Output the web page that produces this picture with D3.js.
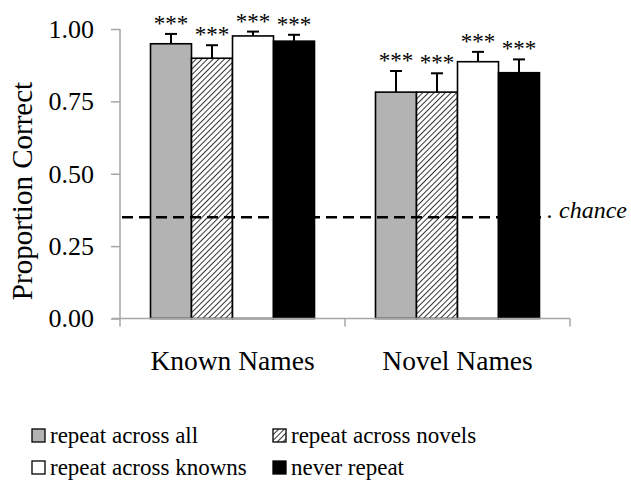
<!DOCTYPE html>
<html>
<head>
<meta charset="utf-8">
<script src="https://cdn.jsdelivr.net/npm/d3@7"></script>
<style>
  html, body { margin: 0; padding: 0; background: #fff; }
  svg { display: block; }
</style>
</head>
<body>
<svg id="chart" width="631" height="487"></svg>
<script>
// ---- data ----
const categories = ["Known Names", "Novel Names"];
const seriesNames = ["repeat across all", "repeat across novels", "repeat across knowns", "never repeat"];
const knownValues = [0.949, 0.899, 0.976, 0.958];
const knownErrors = [0.034, 0.045, 0.015, 0.022];
const novelValues = [0.782, 0.782, 0.887, 0.849];
const novelErrors = [0.073, 0.065, 0.034, 0.046];
const significance = ["***", "***", "***", "***"];
const chanceLevel = 0.35;
const chanceLabel = ". chance";
const yTicks = [0, 0.25, 0.5, 0.75, 1.0];
const yLabel = "Proportion Correct";

// ---- build ----
const FONT = "'Liberation Serif', 'Times New Roman', Times, serif";
const valuesByCat = [knownValues, novelValues];
const errorsByCat = [knownErrors, novelErrors];
const rows = [];
categories.forEach((c, ci) => {
  seriesNames.forEach((s, si) => {
    rows.push({cat: c, series: s, si, value: valuesByCat[ci][si], err: errorsByCat[ci][si], sig: significance[si]});
  });
});

const svg = d3.select("#chart").style("font-family", FONT);
const defs = svg.append("defs");
const pat = defs.append("pattern")
  .attr("id", "hatch").attr("patternUnits", "userSpaceOnUse")
  .attr("width", 4).attr("height", 4)
  .attr("patternTransform", "rotate(45)");
pat.append("rect").attr("width", 4).attr("height", 4).attr("fill", "#fff");
pat.append("line").attr("x1", 0).attr("y1", 0).attr("x2", 0).attr("y2", 4)
  .attr("stroke", "#000").attr("stroke-width", 1.6);

const fills = ["#b3b3b3", "url(#hatch)", "#ffffff", "#000000"];

const x = d3.scaleBand().domain(categories).range([120, 570]).paddingInner(0).paddingOuter(0);
const xs = d3.scaleBand().domain(seriesNames).range([30.5, x.bandwidth() - 30.5]).padding(0);
const y = d3.scaleLinear().domain([0, 1]).range([318.5, 29]);

const axisColor = "#a6a6a6";

function serif(sel) { return sel.style("font-family", FONT).attr("fill", "#000"); }

// y axis
const yAxis = d3.axisLeft(y).tickValues(yTicks).tickFormat(d3.format(".2f")).tickSize(9).tickPadding(17);
const gy = svg.append("g").attr("transform", "translate(120,0)").call(yAxis);
gy.attr("font-family", null).attr("font-size", null);
gy.select(".domain").attr("stroke", axisColor).attr("stroke-width", 1.5).attr("d", `M0,${y(1)}V${y(0)}`);
gy.selectAll(".tick line").attr("stroke", axisColor).attr("stroke-width", 1.5);
serif(gy.selectAll(".tick text")).style("font-size", "26px");

// bars
const bars = svg.append("g");
bars.selectAll("rect").data(rows).join("rect")
  .attr("x", d => x(d.cat) + xs(d.series))
  .attr("y", d => y(d.value))
  .attr("width", xs.bandwidth())
  .attr("height", d => y(0) - y(d.value))
  .attr("fill", d => fills[d.si])
  .attr("stroke", "#000").attr("stroke-width", 1.6);

// x axis (drawn after bars)
const gx = svg.append("g");
gx.append("line").attr("x1", 112).attr("x2", 570).attr("y1", y(0)).attr("y2", y(0))
  .attr("stroke", axisColor).attr("stroke-width", 1.5);
const bounds = categories.map(c => x(c)).concat([x(categories[categories.length - 1]) + x.bandwidth()]);
gx.selectAll("line.tk").data(bounds).join("line").attr("class", "tk")
  .attr("x1", d => d).attr("x2", d => d).attr("y1", y(0)).attr("y2", y(0) + 8)
  .attr("stroke", axisColor).attr("stroke-width", 1.5);
serif(gx.selectAll("text").data(categories).join("text"))
  .attr("x", d => x(d) + x.bandwidth() / 2).attr("y", 370)
  .attr("text-anchor", "middle").style("font-size", "27.5px").text(d => d);

// error bars
const eb = svg.append("g").attr("stroke", "#000").attr("stroke-width", 2);
rows.forEach(d => {
  const cx = x(d.cat) + xs(d.series) + xs.bandwidth() / 2;
  eb.append("line").attr("x1", cx).attr("x2", cx).attr("y1", y(d.value)).attr("y2", y(d.value + d.err));
  eb.append("line").attr("x1", cx - 6).attr("x2", cx + 6).attr("y1", y(d.value + d.err)).attr("y2", y(d.value + d.err));
});

// significance stars
serif(svg.append("g").selectAll("text").data(rows).join("text"))
  .attr("x", d => x(d.cat) + xs(d.series) + xs.bandwidth() / 2)
  .attr("y", d => y(d.value + d.err) - 3)
  .attr("text-anchor", "middle").style("font-size", "23px").text(d => d.sig);

// chance line
svg.append("line").attr("x1", 122).attr("x2", 545).attr("y1", y(chanceLevel)).attr("y2", y(chanceLevel))
  .attr("stroke", "#000").attr("stroke-width", 2.5).attr("stroke-dasharray", "11,6");
serif(svg.append("text")).attr("x", 547).attr("y", y(chanceLevel) + 1)
  .style("font-size", "24px").style("font-style", "italic").text(chanceLabel);

// y label
serif(svg.append("text")).attr("transform", `translate(32,191) rotate(-90)`)
  .attr("text-anchor", "middle").style("font-size", "29px").text(yLabel);

// legend
const legPos = [[32, 436], [273, 436], [32, 468], [273, 468]];
const lg = svg.append("g");
seriesNames.forEach((s, i) => {
  const [lx, ly] = legPos[i];
  lg.append("rect").attr("x", lx).attr("y", ly - 7).attr("width", 13).attr("height", 13)
    .attr("fill", fills[i]).attr("stroke", "#000").attr("stroke-width", 1.3);
  serif(lg.append("text")).attr("x", lx + 18).attr("y", ly + 7).style("font-size", "23px").text(s);
});
</script>
</body>
</html>
